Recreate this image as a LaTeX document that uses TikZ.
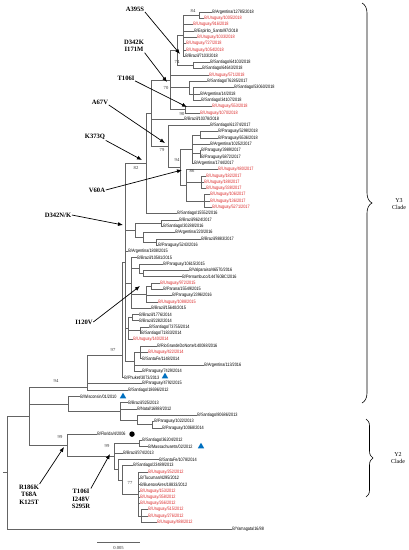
\documentclass[tikz,border=0pt]{standalone}
\usepackage{fontspec}
\setmainfont{Liberation Serif}
\newfontfamily\leaffont[FakeStretch=0.8]{Liberation Sans}
\usetikzlibrary{decorations.pathreplacing,arrows.meta,shapes.geometric}
\definecolor{uruRed}{RGB}{220,40,40}
\definecolor{triBlue}{RGB}{0,112,192}
\definecolor{branchGray}{RGB}{100,100,100}
\newcommand{\treekids}[2]{\foreach \c in {#2} {\draw[br] (#1) |- (\c.west);}}
\begin{document}
\begin{tikzpicture}[x=1pt,y=-1pt,
  leaf/.style={anchor=west, inner sep=0.4pt, outer sep=0pt, font=\leaffont\fontsize{4.8}{5}\selectfont},
  rleaf/.style={leaf, text=uruRed},
  pt/.style={inner sep=0pt, outer sep=0pt, minimum size=0pt},
  br/.style={draw=branchGray, line width=0.6pt},
  boot/.style={font=\fontsize{4.6}{5}\selectfont, inner sep=0pt, text=black!80},
  mut/.style={font=\bfseries\fontsize{6.6}{7.6}\selectfont, inner sep=0.5pt, align=center},
  mutarrow/.style={draw=black, line width=0.7pt, -{Latex[length=5pt,width=4pt]}},
  clade/.style={font=\fontsize{6}{7}\selectfont, align=center, inner sep=0pt},
  tri/.style={regular polygon, regular polygon sides=3, fill=triBlue, inner sep=0pt, minimum size=7.5pt},
  dot/.style={circle, fill=black, inner sep=0pt, minimum size=5.5pt},
  cbrace/.style={draw=black, line width=0.6pt, decorate, decoration={brace, amplitude=#1}}
]
\useasboundingbox[fill=white] (0,0) rectangle (408,550);

% ---------------- leaves ----------------
\node[leaf]  (L1)  at (212,12.0)  {B/Argentina/12785/2018};
\node[rleaf] (L2)  at (204,18.3)  {B/Uruguay/1005/2018};
\node[rleaf] (L3)  at (193,24.6)  {B/Uruguay/916/2018};
\node[leaf]  (L4)  at (194,30.9)  {B/Espirito\_Santo/97/2018};
\node[rleaf] (L5)  at (197,37.2)  {B/Uruguay/1033/2018};
\node[rleaf] (L6)  at (186,43.5)  {B/Uruguay/727/2018};
\node[rleaf] (L7)  at (186,49.8)  {B/Uruguay/1054/2018};
\node[leaf]  (L8)  at (185,56.1)  {B/Brazil/7103/2018};
\node[leaf]  (L9)  at (210,62.4)  {B/Santiago/64103/2018};
\node[leaf]  (L10) at (202,68.7)  {B/Santiago/64643/2018};
\node[rleaf] (L11) at (209,75.0)  {B/Uruguay/571/2018};
\node[leaf]  (L12) at (207,81.3)  {B/Santiago/76285/2017};
\node[leaf]  (L13) at (234,87.6)  {B/Santiago/53060/2018};
\node[leaf]  (L14) at (200,93.9)  {B/Argentina/14/2018};
\node[leaf]  (L15) at (201,100.2) {B/Santiago/34107/2018};
\node[rleaf] (L16) at (212,106.5) {B/Uruguay/553/2018};
\node[rleaf] (L17) at (200,112.8) {B/Uruguay/1070/2018};
\node[leaf]  (L18) at (184,119.1) {B/Brazil/10378/2018};
\node[leaf]  (L19) at (210,125.4) {B/Santiago/61374/2017};
\node[leaf]  (L20) at (218,131.7) {B/Paraguay/5298/2018};
\node[leaf]  (L21) at (218,138.0) {B/Paraguay/6536/2018};
\node[leaf]  (L22) at (210,144.3) {B/Argentina/10252/2017};
\node[leaf]  (L23) at (201,150.6) {B/Paraguay/3989/2017};
\node[leaf]  (L24) at (201,156.9) {B/Paraguay/6872/2017};
\node[leaf]  (L25) at (194,163.2) {B/Argentina/1744/2017};
\node[rleaf] (L26) at (218,169.5) {B/Uruguay/480/2017};
\node[rleaf] (L27) at (206,175.8) {B/Uruguay/182/2017};
\node[rleaf] (L28) at (204,182.1) {B/Uruguay/188/2017};
\node[rleaf] (L29) at (206,188.4) {B/Uruguay/338/2017};
\node[rleaf] (L30) at (210,194.7) {B/Uruguay/106/2017};
\node[rleaf] (L31) at (210,201.0) {B/Uruguay/136/2017};
\node[rleaf] (L32) at (212,207.3) {B/Uruguay/5271/2017};
\node[leaf]  (L33) at (177,213.6) {B/Santiago/15552/2016};
\node[leaf]  (L34) at (179,219.9) {B/Brazil/8624/2017};
\node[leaf]  (L35) at (163,226.2) {B/Santiago/30288/2016};
\node[leaf]  (L36) at (175,232.5) {B/Argentina/220/2016};
\node[leaf]  (L37) at (201,238.8) {B/Brazil/8883/2017};
\node[leaf]  (L38) at (158,245.1) {B/Paraguay/5243/2016};
\node[leaf]  (L39) at (128,251.4) {B/Argentina/1808/2015};
\node[leaf]  (L40) at (137,257.7) {B/Brazil/10581/2015};
\node[leaf]  (L41) at (163,264.0) {B/Paraguay/10615/2015};
\node[leaf]  (L42) at (189,270.3) {B/Valparaiso/46570/2016};
\node[leaf]  (L43) at (182,276.6) {B/Pernambuco/144760BC/2016};
\node[rleaf] (L44) at (160,282.9) {B/Uruguay/972/2015};
\node[leaf]  (L45) at (163,289.2) {B/Parana/15549/2015};
\node[leaf]  (L46) at (172,295.5) {B/Paraguay/2396/2016};
\node[rleaf] (L47) at (158,301.8) {B/Uruguay/1088/2015};
\node[leaf]  (L48) at (151,308.1) {B/Brazil/15640/2015};
\node[leaf]  (L49) at (139,314.4) {B/Brazil/1776/2014};
\node[leaf]  (L50) at (139,320.7) {B/Brazil/2282/2014};
\node[leaf]  (L51) at (149,327.0) {B/Santiago/73755/2014};
\node[leaf]  (L52) at (141,333.3) {B/Santiago/71833/2014};
\node[rleaf] (L53) at (133,339.6) {B/Uruguay/140/2014};
\node[leaf]  (L54) at (157,345.9) {B/RioGrandeDoNorte/140088/2016};
\node[rleaf] (L55) at (148,352.2) {B/Uruguay/422/2014};
\node[leaf]  (L56) at (142,358.5) {B/SantaFe/1148/2014};
\node[leaf]  (L57) at (204,364.8) {B/Argentina/113/2016};
\node[leaf]  (L58) at (142,371.1) {B/Paraguay/7429/2014};
\node[leaf]  (L59) at (124,377.4) {B/Phuket/3073/2013};
\node[leaf]  (L60) at (142,383.7) {B/Paraguay/4792/2015};
\node[leaf]  (L61) at (128,390.0) {B/Santiago/18696/2012};
\node[leaf]  (L62) at (80,396.3)  {B/Wisconsin/01/2010};
\node[leaf]  (L63) at (128,402.6) {B/Brazil/325/2013};
\node[leaf]  (L64) at (137,408.9) {B/Natal/16888/2012};
\node[leaf]  (L65) at (197,415.2) {B/Santiago/80686/2013};
\node[leaf]  (L66) at (154,421.5) {B/Paraguay/1022/2013};
\node[leaf]  (L67) at (162,427.8) {B/Paraguay/10068/2014};
\node[leaf]  (L68) at (97,434.1)  {B/Florida/4/2006};
\node[leaf]  (L69) at (142,440.4) {B/Santiago/36204/2012};
\node[leaf]  (L70) at (148,446.7) {B/Massachusetts/02/2012};
\node[leaf]  (L71) at (123,453.0) {B/Brazil/374/2013};
\node[leaf]  (L72) at (159,459.3) {B/SantaFe/1078/2014};
\node[leaf]  (L73) at (133,465.6) {B/Santiago/23489/2013};
\node[rleaf] (L74) at (148,471.9) {B/Uruguay/252/2012};
\node[leaf]  (L75) at (140,478.2) {B/Tucuman/4295/2012};
\node[leaf]  (L76) at (140,484.5) {B/BuenosAires/18833/2012};
\node[rleaf] (L77) at (140,490.8) {B/Uruguay/153/2012};
\node[rleaf] (L78) at (140,497.1) {B/Uruguay/358/2012};
\node[rleaf] (L79) at (140,503.4) {B/Uruguay/266/2012};
\node[rleaf] (L80) at (148,509.7) {B/Uruguay/515/2012};
\node[rleaf] (L81) at (148,516.0) {B/Uruguay/276/2012};
\node[rleaf] (L82) at (157,522.3) {B/Uruguay/488/2012};
\node[leaf]  (L83) at (232,529.0) {B/Yamagata/16/88};

% ---------------- internal nodes ----------------
\node[pt] (n84)   at (199,15.15) {};
\node[pt] (nA)    at (183,35.6) {};
\node[pt] (nB)    at (193,65.55) {};
\node[pt] (n74)   at (177,50.6) {};
\node[pt] (nD)    at (193,93.9) {};
\node[pt] (nC)    at (189,87.6) {};
\node[pt] (n90)   at (185,109.65) {};
\node[pt] (n70)   at (170,80) {};
\node[pt] (nTop)  at (151,113.1) {};
\node[pt] (nPP1)  at (200,134.85) {};
\node[pt] (nPP2)  at (200,153.75) {};
\node[pt] (nQ)    at (192,149) {};
\node[pt] (nR)    at (201,182.1) {};
\node[pt] (nS)    at (204,201) {};
\node[pt] (n86)   at (186,185.25) {};
\node[pt] (n94)   at (180,167.1) {};
\node[pt] (n79)   at (168,146.25) {};
\node[pt] (n82)   at (146,163.3) {};
\node[pt] (nSB)   at (161,223.05) {};
\node[pt] (n3738) at (156,241.95) {};
\node[pt] (n36)   at (143,237.2) {};
\node[pt] (nC1)   at (135,230.1) {};
\node[pt] (nV2)   at (143,273.45) {};
\node[pt] (nV)    at (139,268.7) {};
\node[pt] (nI1)   at (151,286.05) {};
\node[pt] (nI)    at (146,293.9) {};
\node[pt] (nC2)   at (131,282.9) {};
\node[pt] (nBB)   at (132,317.55) {};
\node[pt] (nSS)   at (140,330.15) {};
\node[pt] (nE)    at (128,328.6) {};
\node[pt] (nF1)   at (140,352.2) {};
\node[pt] (nF)    at (134,361.65) {};
\node[pt] (nDN)   at (125,262.5) {};
\node[pt] (n97)   at (122,355) {};
\node[pt] (n87)   at (87,387) {};
\node[pt] (nPg2)  at (152,424.65) {};
\node[pt] (nPg)   at (137,419.9) {};
\node[pt] (nBr)   at (120,411.25) {};
\node[pt] (nWis)  at (68,403.8) {};
\node[pt] (nMa)   at (139,443.55) {};
\node[pt] (nU)    at (141,516) {};
\node[pt] (n77)   at (138,494) {};
\node[pt] (nT2)   at (122,479.8) {};
\node[pt] (nT)    at (118,469.5) {};
\node[pt] (n99b)  at (114,456.5) {};
\node[pt] (n99a)  at (67,445.3) {};
\node[pt] (nYin)  at (29,416) {};
\node[pt] (root)  at (7,472.5) {};
\node[pt] (rstub) at (3,472.5) {};

% ---------------- branches ----------------
\treekids{n84}{L1,L2}
\treekids{nA}{n84,L3,L4,L5,L6,L7,L8}
\treekids{nB}{L9,L10}
\treekids{n74}{nA,nB}
\treekids{nD}{L13,L14,L15}
\treekids{nC}{L12,nD}
\treekids{n90}{L16,L17}
\treekids{n70}{n74,L11,nC,n90}
\treekids{nTop}{n70,L18,n79}
\treekids{nPP1}{L20,L21}
\treekids{nPP2}{L23,L24}
\treekids{nQ}{nPP1,L22,nPP2,L25}
\treekids{nR}{L27,L28,L29}
\treekids{nS}{L30,L31,L32}
\treekids{n86}{L26,nR,nS}
\treekids{n94}{nQ,n86}
\treekids{n79}{L19,n94}
\treekids{n82}{nTop,L33}
\treekids{nSB}{L34,L35}
\treekids{n3738}{L37,L38}
\treekids{n36}{L36,n3738}
\treekids{nC1}{nSB,n36}
\treekids{nV2}{L42,L43}
\treekids{nV}{L41,nV2}
\treekids{nI1}{L44,L45}
\treekids{nI}{nI1,L46,L47}
\treekids{nC2}{L40,nV,nI,L48}
\treekids{nBB}{L49,L50}
\treekids{nSS}{L51,L52}
\treekids{nE}{nBB,nSS,L53}
\treekids{nF1}{L54,L55,L56}
\treekids{nF}{nF1,L57,L58}
\treekids{nDN}{n82,nC1,L39,nC2,nE,nF}
\treekids{n97}{nDN,L59}
\treekids{n87}{n97,L60,L61}
\treekids{nPg2}{L66,L67}
\treekids{nPg}{L65,nPg2}
\treekids{nBr}{L63,L64,nPg}
\treekids{nWis}{L62,nBr}
\treekids{nMa}{L69,L70}
\treekids{nU}{L80,L81,L82}
\treekids{n77}{L74,L75,L76,L77,L78,L79,nU}
\treekids{nT2}{L73,n77}
\treekids{nT}{L72,nT2}
\treekids{n99b}{nMa,L71,nT}
\treekids{n99a}{L68,n99b}
\treekids{nYin}{n87,nWis,n99a}
\treekids{root}{nYin,L83}
\draw[br] (rstub) -- (root);

% ---------------- bootstrap values ----------------
\node[boot] (b84) at (193,11) {84};
\node[boot] (b74) at (177,62) {74};
\node[boot] (b70) at (166,88) {70};
\node[boot] (b90) at (182,114) {90};
\node[boot] (b79) at (162,150) {79};
\node[boot] (b94a) at (177,160) {94};
\node[boot] (b82) at (136,168) {82};
\node[boot] (b86) at (192,171) {86};
\node[boot] (b97) at (113,350) {97};
\node[boot] (b94b) at (56,381) {94};
\node[boot] (b99a) at (60,437) {99};
\node[boot] (b99b) at (107,446) {99};
\node[boot] (b77) at (130,483) {77};

% ---------------- markers ----------------
\node[tri] (triPhuket) at (165,376.5) {};
\node[tri] (triWis) at (123,396.5) {};
\node[tri] (triMass) at (201,446.5) {};
\node[dot] (dotFlo) at (132,434.1) {};

% ---------------- mutation annotations ----------------
\node[mut] (mA395S) at (135,9) {A395S};
\node[mut] (mD342K) at (134,46) {D342K\\I171M};
\node[mut] (mT106I) at (126,78) {T106I};
\node[mut] (mA67V) at (100,102) {A67V};
\node[mut] (mK373Q) at (95,137) {K373Q};
\node[mut] (mV60A) at (97,190) {V60A};
\node[mut] (mD342N) at (58,215) {D342N/K};
\node[mut] (mI120V) at (84,322) {I120V};
\node[mut] (mR186K) at (29,494.5) {R186K\\T68A\\K125T};
\node[mut] (mT106b) at (81,499) {T106I\\I248V\\S295R};

\coordinate (tA395S) at (180,54);
\coordinate (tD342K) at (167,82);
\coordinate (tT106I) at (187,107);
\coordinate (tA67V) at (165,143);
\coordinate (tK373Q) at (142,160);
\coordinate (tV60A) at (182,170);
\coordinate (tD342N) at (123,225);
\coordinate (tI120V) at (140,286);
\coordinate (tR186K) at (64,447);
\coordinate (tT106b) at (110,454);

\draw[mutarrow] (mA395S.south east) -- (tA395S);
\draw[mutarrow] (mD342K.south east) -- (tD342K);
\draw[mutarrow] (mT106I.south east) -- (tT106I);
\draw[mutarrow] (mA67V.south east) -- (tA67V);
\draw[mutarrow] (mK373Q.south east) -- (tK373Q);
\draw[mutarrow] (mV60A.east) -- (tV60A);
\draw[mutarrow] (mD342N.east) -- (tD342N);
\draw[mutarrow] (mI120V.east) -- (tI120V);
\draw[mutarrow] (mR186K.north east) -- (tR186K);
\draw[mutarrow] (mT106b.north east) -- (tT106b);

% ---------------- clade braces ----------------
\coordinate (y3top) at (362,3);
\coordinate (y3bot) at (362,403);
\coordinate (y2top) at (366,419);
\coordinate (y2bot) at (366,497);
\draw[cbrace=10pt] (y3top) -- (y3bot);
\draw[cbrace=7pt] (y2top) -- (y2bot);
\node[clade] (cY3) at (399,204) {Y3\\Clade};
\node[clade] (cY2) at (398,458) {Y2\\Clade};

% ---------------- scale bar ----------------
\coordinate (sb1) at (97,542);
\coordinate (sb2) at (140,542);
\draw[line width=0.6pt, draw=branchGray] (sb1) -- (sb2);
\node[boot] (sbl) at (118.5,547.5) {0.005};
\end{tikzpicture}
\end{document}
